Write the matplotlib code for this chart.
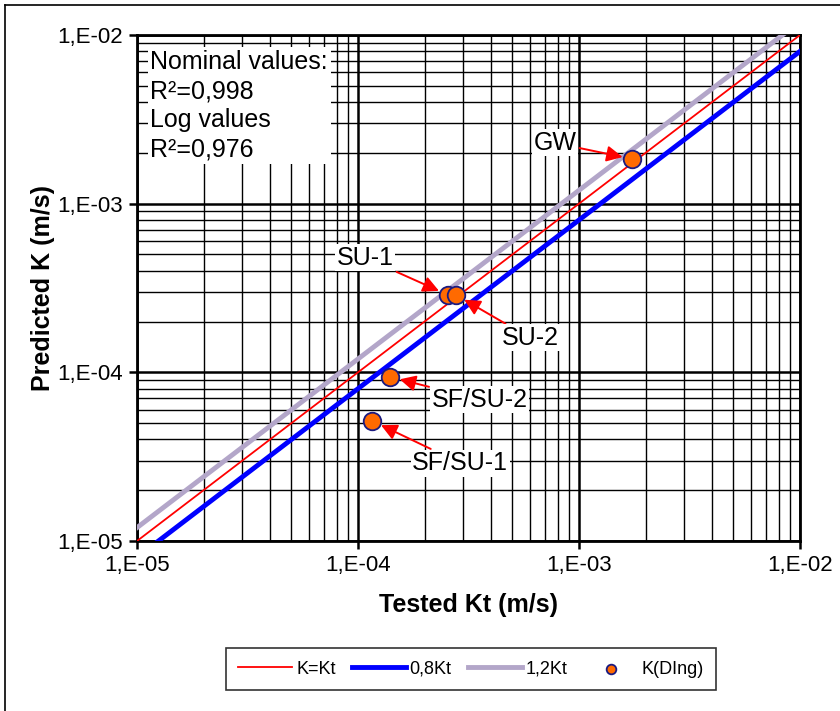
import matplotlib
matplotlib.use("Agg", force=True)
import matplotlib.pyplot as plt
from matplotlib.ticker import FixedLocator, LogLocator, NullFormatter
import numpy as np

# sample data (tested vs predicted permeability, m/s)
names = ["GW", "SU-1", "SU-2", "SF/SU-2", "SF/SU-1"]
tested_kt = [1.74e-3, 2.55e-4, 2.77e-4, 1.40e-4, 1.16e-4]
predicted_k = [1.84e-3, 2.88e-4, 2.88e-4, 9.4e-5, 5.15e-5]
label_pos = [(7.8e-4, 2.29e-3), (1.08e-4, 4.77e-4), (6.0e-4, 1.6e-4), (3.56e-4, 6.86e-5), (2.9e-4, 2.9e-5)]
line_range = [1e-5, 1e-2]
tick_vals = [1e-5, 1e-4, 1e-3, 1e-2]
tick_labels = ["1,E-05", "1,E-04", "1,E-03", "1,E-02"]
stats_text = "Nominal values:\nR²=0,998\nLog values\nR²=0,976"

plt.rcParams["font.family"] = ["Liberation Sans", "DejaVu Sans"]

fig = plt.figure(figsize=(8.4, 7.11), dpi=100)
ax = fig.add_axes([137 / 840, 1 - 541 / 711, (800 - 137) / 840, (541 - 35) / 711])

x = np.array(line_range)
ax.plot(x, x, color="#ff0000", lw=1.3, label="K=Kt", zorder=3)
ax.plot(x, 0.8 * x, color="#0000ff", lw=3.5, label="0,8Kt", zorder=3)
ax.plot(x, 1.2 * x, color="#b3a6c9", lw=3.5, label="1,2Kt", zorder=3)
ax.scatter(tested_kt, predicted_k, s=160, color="#ff6a00", edgecolor="#1a1a80",
           linewidth=1.3, label="K(DIng)", zorder=5)

ax.set_xscale("log")
ax.set_yscale("log")
ax.set_xlim(1e-5, 1e-2)
ax.set_ylim(1e-5, 1e-2)
ax.xaxis.set_major_locator(FixedLocator(tick_vals))
ax.yaxis.set_major_locator(FixedLocator(tick_vals))
ax.set_xticklabels(tick_labels)
ax.set_yticklabels(tick_labels)
ax.xaxis.set_minor_locator(LogLocator(base=10, subs=np.arange(2, 10)))
ax.yaxis.set_minor_locator(LogLocator(base=10, subs=np.arange(2, 10)))
ax.xaxis.set_minor_formatter(NullFormatter())
ax.yaxis.set_minor_formatter(NullFormatter())
ax.grid(which="major", color="black", lw=1.8, zorder=1)
ax.grid(which="minor", color="black", lw=1.0, zorder=1)
ax.tick_params(which="major", direction="out", length=6, width=1.8, labelsize=16, pad=4)
ax.tick_params(which="minor", direction="in", length=0)
for sp in ax.spines.values():
    sp.set_linewidth(2)
ax.set_xlabel("Tested Kt (m/s)", fontsize=18, fontweight="bold", labelpad=12)
ax.set_ylabel("Predicted K (m/s)", fontsize=18, fontweight="bold", labelpad=2)

ax.text(0.02, 0.97, stats_text, transform=ax.transAxes, va="top", ha="left",
        fontsize=18, linespacing=1.27, zorder=6,
        bbox=dict(facecolor="white", edgecolor="none", pad=2))

for name, xv, yv, (tx, ty) in zip(names, tested_kt, predicted_k, label_pos):
    ax.annotate(name, xy=(xv, yv), xytext=(tx, ty), fontsize=18, ha="center", va="center",
                zorder=6, bbox=dict(facecolor="white", edgecolor="none", pad=1),
                arrowprops=dict(arrowstyle="-|>", color="#ff0000", lw=1.4,
                                mutation_scale=24, shrinkA=1, shrinkB=7))

handles, labels = ax.get_legend_handles_labels()
leg = fig.legend(handles, labels, loc="center", bbox_to_anchor=(471 / 840, 1 - 669 / 711),
                 ncol=4, fontsize=13, frameon=True, fancybox=False, edgecolor="black",
                 handlelength=3.0, columnspacing=0.9, handletextpad=0.2, borderpad=0.7,
                 markerscale=0.55)
leg.get_frame().set_linewidth(1.2)

# outer frame lines (left/top)
fig.add_artist(plt.Line2D([5 / 840, 5 / 840], [0, 1 - 5 / 711], color="black", lw=1.2))
fig.add_artist(plt.Line2D([5 / 840, 1], [1 - 5 / 711, 1 - 5 / 711], color="black", lw=1.2))

fig.savefig("out.png", dpi=100)
